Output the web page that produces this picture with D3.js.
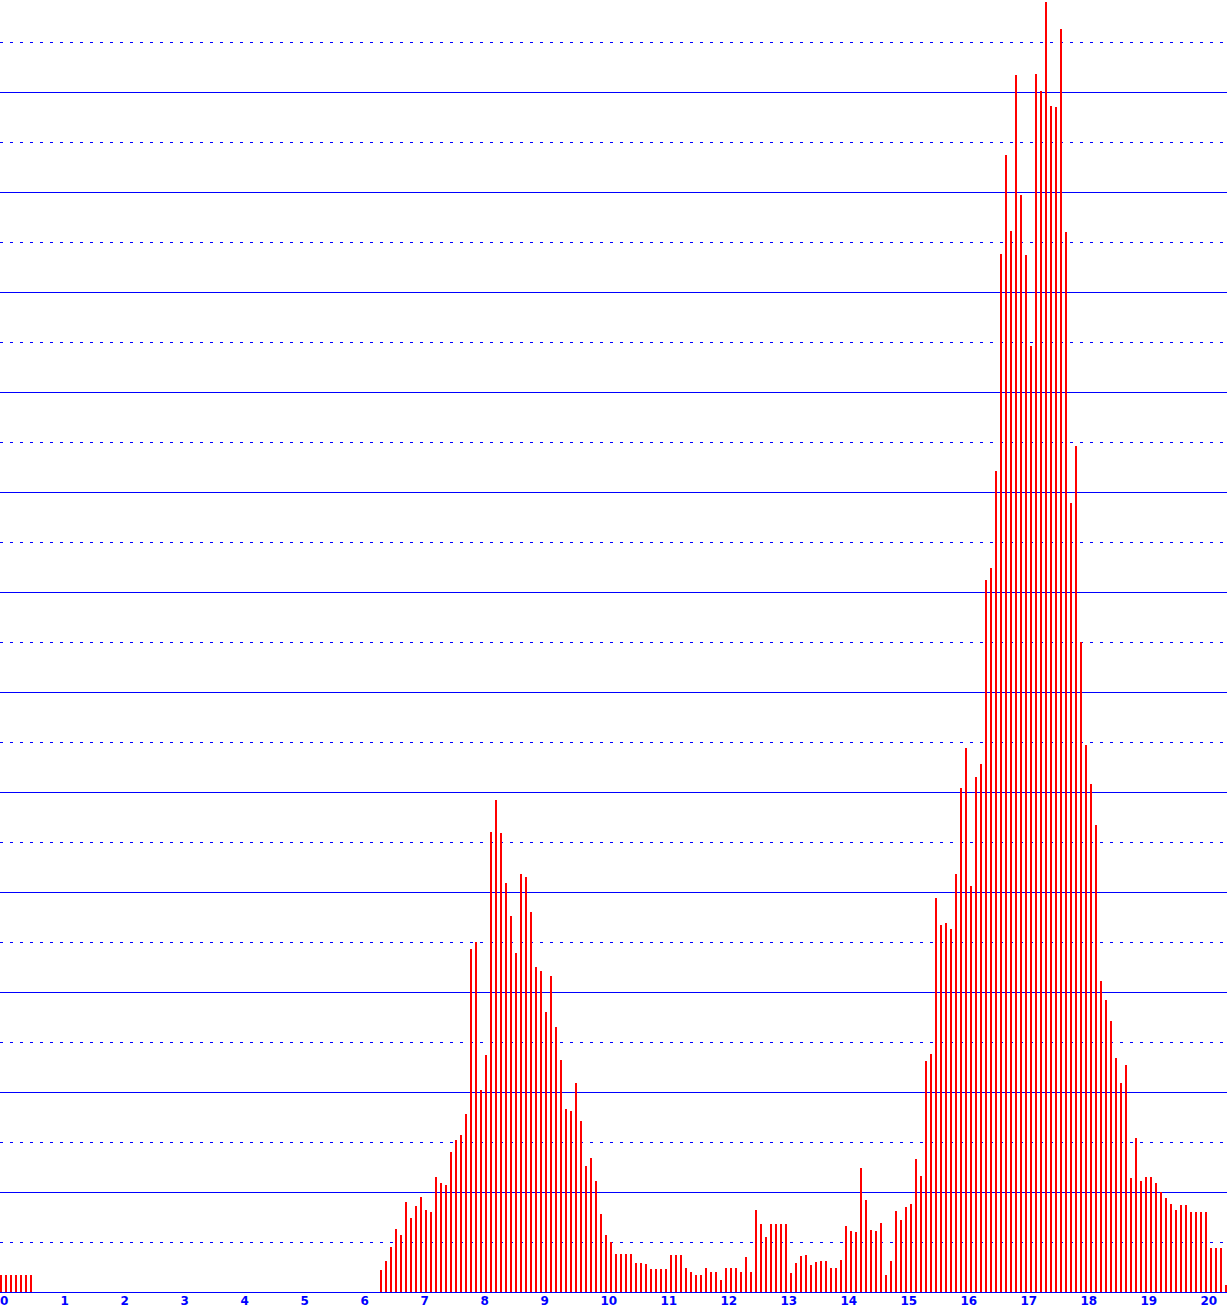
<!DOCTYPE html>
<html>
<head>
<meta charset="utf-8">
<script src="https://cdn.jsdelivr.net/npm/d3@7"></script>
<style>
  html, body { margin: 0; padding: 0; background: #fff; overflow: hidden; }
  svg { display: block; }
  .tick-label { font-family: "DejaVu Sans", sans-serif; font-size: 12px; font-weight: bold; fill: #0000ff; }
</style>
</head>
<body>
<svg id="chart"></svg>
<script>
var width = 1227;
var height = 1312;

// bins are 1/12 of a unit wide, starting at 0
var binsPerUnit = 12;
var counts = [
  1.7, 1.7, 1.7, 1.7, 1.7, 1.7, 1.7, 0, 0, 0, 0, 0,
  0, 0, 0, 0, 0, 0, 0, 0, 0, 0, 0, 0,
  0, 0, 0, 0, 0, 0, 0, 0, 0, 0, 0, 0,
  0, 0, 0, 0, 0, 0, 0, 0, 0, 0, 0, 0,
  0, 0, 0, 0, 0, 0, 0, 0, 0, 0, 0, 0,
  0, 0, 0, 0, 0, 0, 0, 0, 0, 0, 0, 0,
  0, 0, 0, 0, 2.2, 3.1, 4.5, 6.3, 5.7, 9.0, 7.4, 8.6,
  9.5, 8.2, 8.0, 11.5, 10.9, 10.7, 14.0, 15.2, 15.7, 17.8, 34.3, 35.0,
  20.2, 23.7, 46.0, 49.2, 45.9, 40.9, 37.6, 33.9, 41.8, 41.5, 38.0, 32.5,
  32.1, 28.0, 31.6, 26.5, 23.2, 18.3, 18.1, 20.9, 17.1, 12.6, 13.4, 11.1,
  7.8, 5.7, 5.0, 3.8, 3.8, 3.8, 3.8, 2.9, 2.9, 2.8, 2.3, 2.3,
  2.3, 2.3, 3.7, 3.7, 3.7, 2.4, 2.0, 1.7, 1.7, 2.4, 2.0, 2.0,
  1.2, 2.4, 2.4, 2.4, 2.0, 3.5, 2.0, 8.2, 6.8, 5.5, 6.8, 6.8,
  6.8, 6.8, 1.9, 2.9, 3.6, 3.7, 2.7, 3.0, 3.1, 3.1, 2.4, 2.4,
  3.2, 6.6, 6.1, 6.0, 12.4, 9.2, 6.2, 6.1, 6.9, 1.7, 3.1, 8.1,
  7.2, 8.5, 8.8, 13.3, 11.6, 23.1, 23.8, 39.4, 36.7, 36.9, 36.3, 41.8,
  50.4, 54.4, 40.6, 51.5, 52.8, 71.2, 72.4, 82.1, 103.8, 113.7, 106.1, 121.7,
  109.7, 103.7, 94.6, 121.8, 120.1, 129.0, 118.6, 118.5, 126.3, 106.0, 78.9, 84.6,
  65.0, 54.7, 50.8, 46.7, 31.1, 29.2, 27.1, 23.4, 20.9, 22.7, 11.4, 15.4,
  11.1, 11.5, 11.5, 10.9, 10.0, 9.4, 8.8, 8.2, 8.7, 8.7, 8.0, 8.0,
  8.0, 8.0, 4.4, 4.4, 4.4, 0.7
];
var xTicks = d3.range(0, 21);          // 0 .. 20
var gridValues = d3.range(5, 130, 5);  // solid at tens, dotted at fives

var baseline = 1292;

var x = d3.scaleLinear()
    .domain([0, width / 60])
    .range([0, width]);

var y = d3.scaleLinear()
    .domain([0, baseline / 10])
    .range([baseline, 0]);

var svg = d3.select("#chart")
    .attr("width", width)
    .attr("height", height);

// grid lines
svg.append("g")
    .selectAll("line")
    .data(gridValues)
    .enter()
    .append("line")
    .attr("x1", 0)
    .attr("x2", width)
    .attr("y1", d => y(d) + 0.5)
    .attr("y2", d => y(d) + 0.5)
    .attr("stroke", "#0000ff")
    .attr("stroke-width", 1)
    .attr("shape-rendering", "crispEdges")
    .attr("stroke-dasharray", d => d % 10 == 0 ? null : "3,7");

// baseline
svg.append("line")
    .attr("x1", 0)
    .attr("x2", width)
    .attr("y1", y(0) + 0.5)
    .attr("y2", y(0) + 0.5)
    .attr("stroke", "#0000ff")
    .attr("stroke-width", 1)
    .attr("shape-rendering", "crispEdges");

// bars
svg.append("g")
    .selectAll("rect")
    .data(counts.map((v, i) => ({i: i, v: v})).filter(d => d.v > 0))
    .enter()
    .append("rect")
    .attr("x", d => x(d.i / binsPerUnit))
    .attr("width", 2)
    .attr("y", d => Math.round(y(d.v)))
    .attr("height", d => y(0) - Math.round(y(d.v)))
    .attr("fill", "#ff0000")
    .attr("shape-rendering", "crispEdges");

// tick labels
svg.append("g")
    .selectAll("text")
    .data(xTicks)
    .enter()
    .append("text")
    .attr("class", "tick-label")
    .attr("x", d => x(d) + (d == 0 ? 0 : 0.5))
    .attr("y", 1305)
    .text(d => d);
</script>
</body>
</html>
